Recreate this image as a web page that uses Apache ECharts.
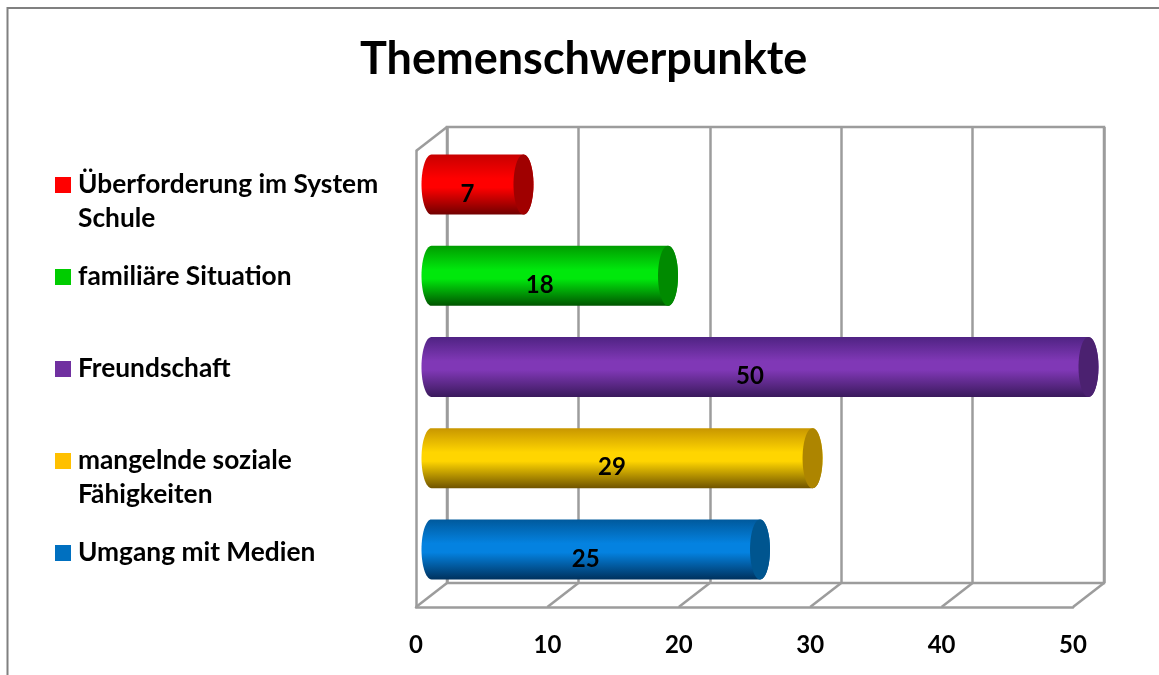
<!DOCTYPE html>
<html><head><meta charset="utf-8">
<style>html,body{margin:0;padding:0;background:#fff}#c{width:1159px;height:675px}</style>
<script src="https://cdn.jsdelivr.net/npm/echarts@6/dist/echarts.min.js"></script>
</head><body><div id="c"></div>
<script>
const titleText = 'Themenschwerpunkte';
const categories = ['Umgang mit Medien', 'mangelnde soziale\nFähigkeiten', 'Freundschaft', 'familiäre Situation', 'Überforderung im System\nSchule'];
const values = [25, 29, 50, 18, 7];
const swatch = ['#0070c0', '#ffc000', '#7030a0', '#00cc00', '#ff0000'];
const gradTop = ['#00599c', '#c89600', '#4f2383', '#009c00', '#c80000'];
const gradMid = ['#0482e0', '#ffd500', '#8038b6', '#00e80c', '#ff0000'];
const gradBottom = ['#00325e', '#705400', '#3a1a5c', '#005400', '#700000'];
const capColor = ['#00558f', '#ad8500', '#4b2170', '#008a00', '#a00000'];
const xTicks = [0, 10, 20, 30, 40, 50];
const FONT = 'Lato';
const GRAY = '#9c9c9c';
const LW = 2.5;
const DX = 31, DY = 24, RX = 10, RY = 30;

const chart = echarts.init(document.getElementById('c'), null, {renderer: 'canvas'});

function cylinder(i) {
  return function (params, api) {
    const v = values[i];
    const p0 = api.coord([0, i]);
    const p1 = api.coord([v, i]);
    const pm = api.coord([v / 2, i]);
    const x0 = p0[0] + DX / 2, x1 = p1[0] + DX / 2, cy = p0[1] - DY / 2;
    const pts = [];
    for (let a = 90; a <= 270; a += 6) {
      const r = a * Math.PI / 180;
      pts.push([x0 + RX * Math.cos(r), cy - RY * Math.sin(r)]);
    }
    for (let a = -90; a <= 90; a += 6) {
      const r = a * Math.PI / 180;
      pts.push([x1 + RX * Math.cos(r), cy - RY * Math.sin(r)]);
    }
    return {
      type: 'group',
      children: [
        {type: 'polygon', shape: {points: pts},
         style: {fill: new echarts.graphic.LinearGradient(0, 0, 0, 1, [
           {offset: 0, color: gradTop[i]},
           {offset: 0.4, color: gradMid[i]},
           {offset: 0.55, color: gradMid[i]},
           {offset: 1, color: gradBottom[i]}
         ])}},
        {type: 'ellipse', shape: {cx: x1, cy: cy, rx: RX, ry: RY}, style: {fill: capColor[i]}},
        {type: 'text', x: pm[0] + 5.5, y: p0[1] - 2.5,
         style: {text: String(v), fill: '#000', font: 'bold 24px ' + FONT, align: 'center', verticalAlign: 'middle'}}
      ]
    };
  };
}

function frameItem(params, api) {
  const t = api.value(0);
  const band = api.size([0, 1])[1];
  const b = api.coord([t, 0]);
  const y = b[1] + band / 2;
  return {type: 'line',
    shape: {x1: b[0], y1: y, x2: b[0] + DX, y2: y - DY},
    style: {stroke: GRAY, lineWidth: LW}};
}
function topEdge(params, api) {
  const band = api.size([0, 1])[1];
  const t = api.coord([0, categories.length - 1]);
  const y = t[1] - band / 2;
  return {type: 'line',
    shape: {x1: t[0], y1: y, x2: t[0] + DX, y2: y - DY},
    style: {stroke: GRAY, lineWidth: LW}};
}

const legends = categories.map((c, i) => ({
  data: [c],
  left: 55,
  top: 552 - (i * 92) - 12,
  icon: 'rect', itemWidth: 16, itemHeight: 16, itemGap: 0, padding: 0,
  selectedMode: false,
  formatter: n => n.split('\n')[0],
  textStyle: {fontFamily: FONT, fontWeight: 'bold', fontSize: 26.3, color: '#000', padding: [0, 0, 0, 2]}
}));

const secondLines = categories.map((c, i) => c.includes('\n') ? {
  type: 'text', left: 78, top: 552 - (i * 92) + 34 - 12,
  style: {text: c.split('\n')[1], font: 'bold 26.3px ' + FONT, fill: '#000'}
} : null).filter(Boolean);

chart.setOption({
  animation: false,
  backgroundColor: '#fff',
  title: {text: titleText, left: 360, top: 37, padding: 0,
    textStyle: {fontFamily: FONT, fontWeight: 'bold', fontSize: 45, color: '#000'}},
  legend: legends,
  graphic: [
    {type: 'polyline', shape: {points: [[7.5, 675], [7.5, 8], [1159, 8]]}, style: {stroke: '#808080', lineWidth: 2, fill: 'none'}, silent: true}
  ].concat(secondLines),
  grid: [
    {left: 416, top: 151, width: 657, height: 456},
    {left: 447, top: 127, width: 657, height: 456, show: true, borderColor: GRAY, borderWidth: LW, backgroundColor: 'transparent'}
  ],
  xAxis: [
    {type: 'value', gridIndex: 0, min: 0, max: 50, interval: 10,
     axisLine: {show: true, onZero: false, lineStyle: {color: GRAY, width: LW}},
     axisTick: {show: false}, splitLine: {show: false},
     axisLabel: {margin: 26, color: '#000', fontFamily: FONT, fontWeight: 'bold', fontSize: 24, hideOverlap: false}},
    {type: 'value', gridIndex: 1, min: 0, max: 50, interval: 10,
     axisLine: {show: false}, axisTick: {show: false}, axisLabel: {show: false},
     splitLine: {show: true, lineStyle: {color: GRAY, width: LW, type: 'solid'}}}
  ],
  yAxis: [
    {type: 'category', gridIndex: 0, data: categories,
     axisLine: {show: true, onZero: false, lineStyle: {color: GRAY, width: LW}},
     axisTick: {show: false}, axisLabel: {show: false}, splitLine: {show: false}},
    {type: 'category', gridIndex: 1, data: categories,
     axisLine: {show: false}, axisTick: {show: false}, axisLabel: {show: false}, splitLine: {show: false}}
  ],
  series: [
    {type: 'custom', name: 'floor', xAxisIndex: 0, yAxisIndex: 0, data: xTicks.map(t => [t]), renderItem: frameItem, encode: {x: 0}, silent: true, z: 1, clip: false, tooltip: {show: false}},
    {type: 'custom', name: 'edge', xAxisIndex: 0, yAxisIndex: 0, data: [[0]], renderItem: topEdge, encode: {x: 0}, silent: true, z: 1, clip: false}
  ].concat(categories.map((c, i) => ({
    type: 'custom', name: c, xAxisIndex: 0, yAxisIndex: 0,
    data: [[values[i], i]], encode: {x: 0, y: 1},
    itemStyle: {color: swatch[i]},
    renderItem: cylinder(i), z: 5, clip: false
  })))
});
</script></body></html>
